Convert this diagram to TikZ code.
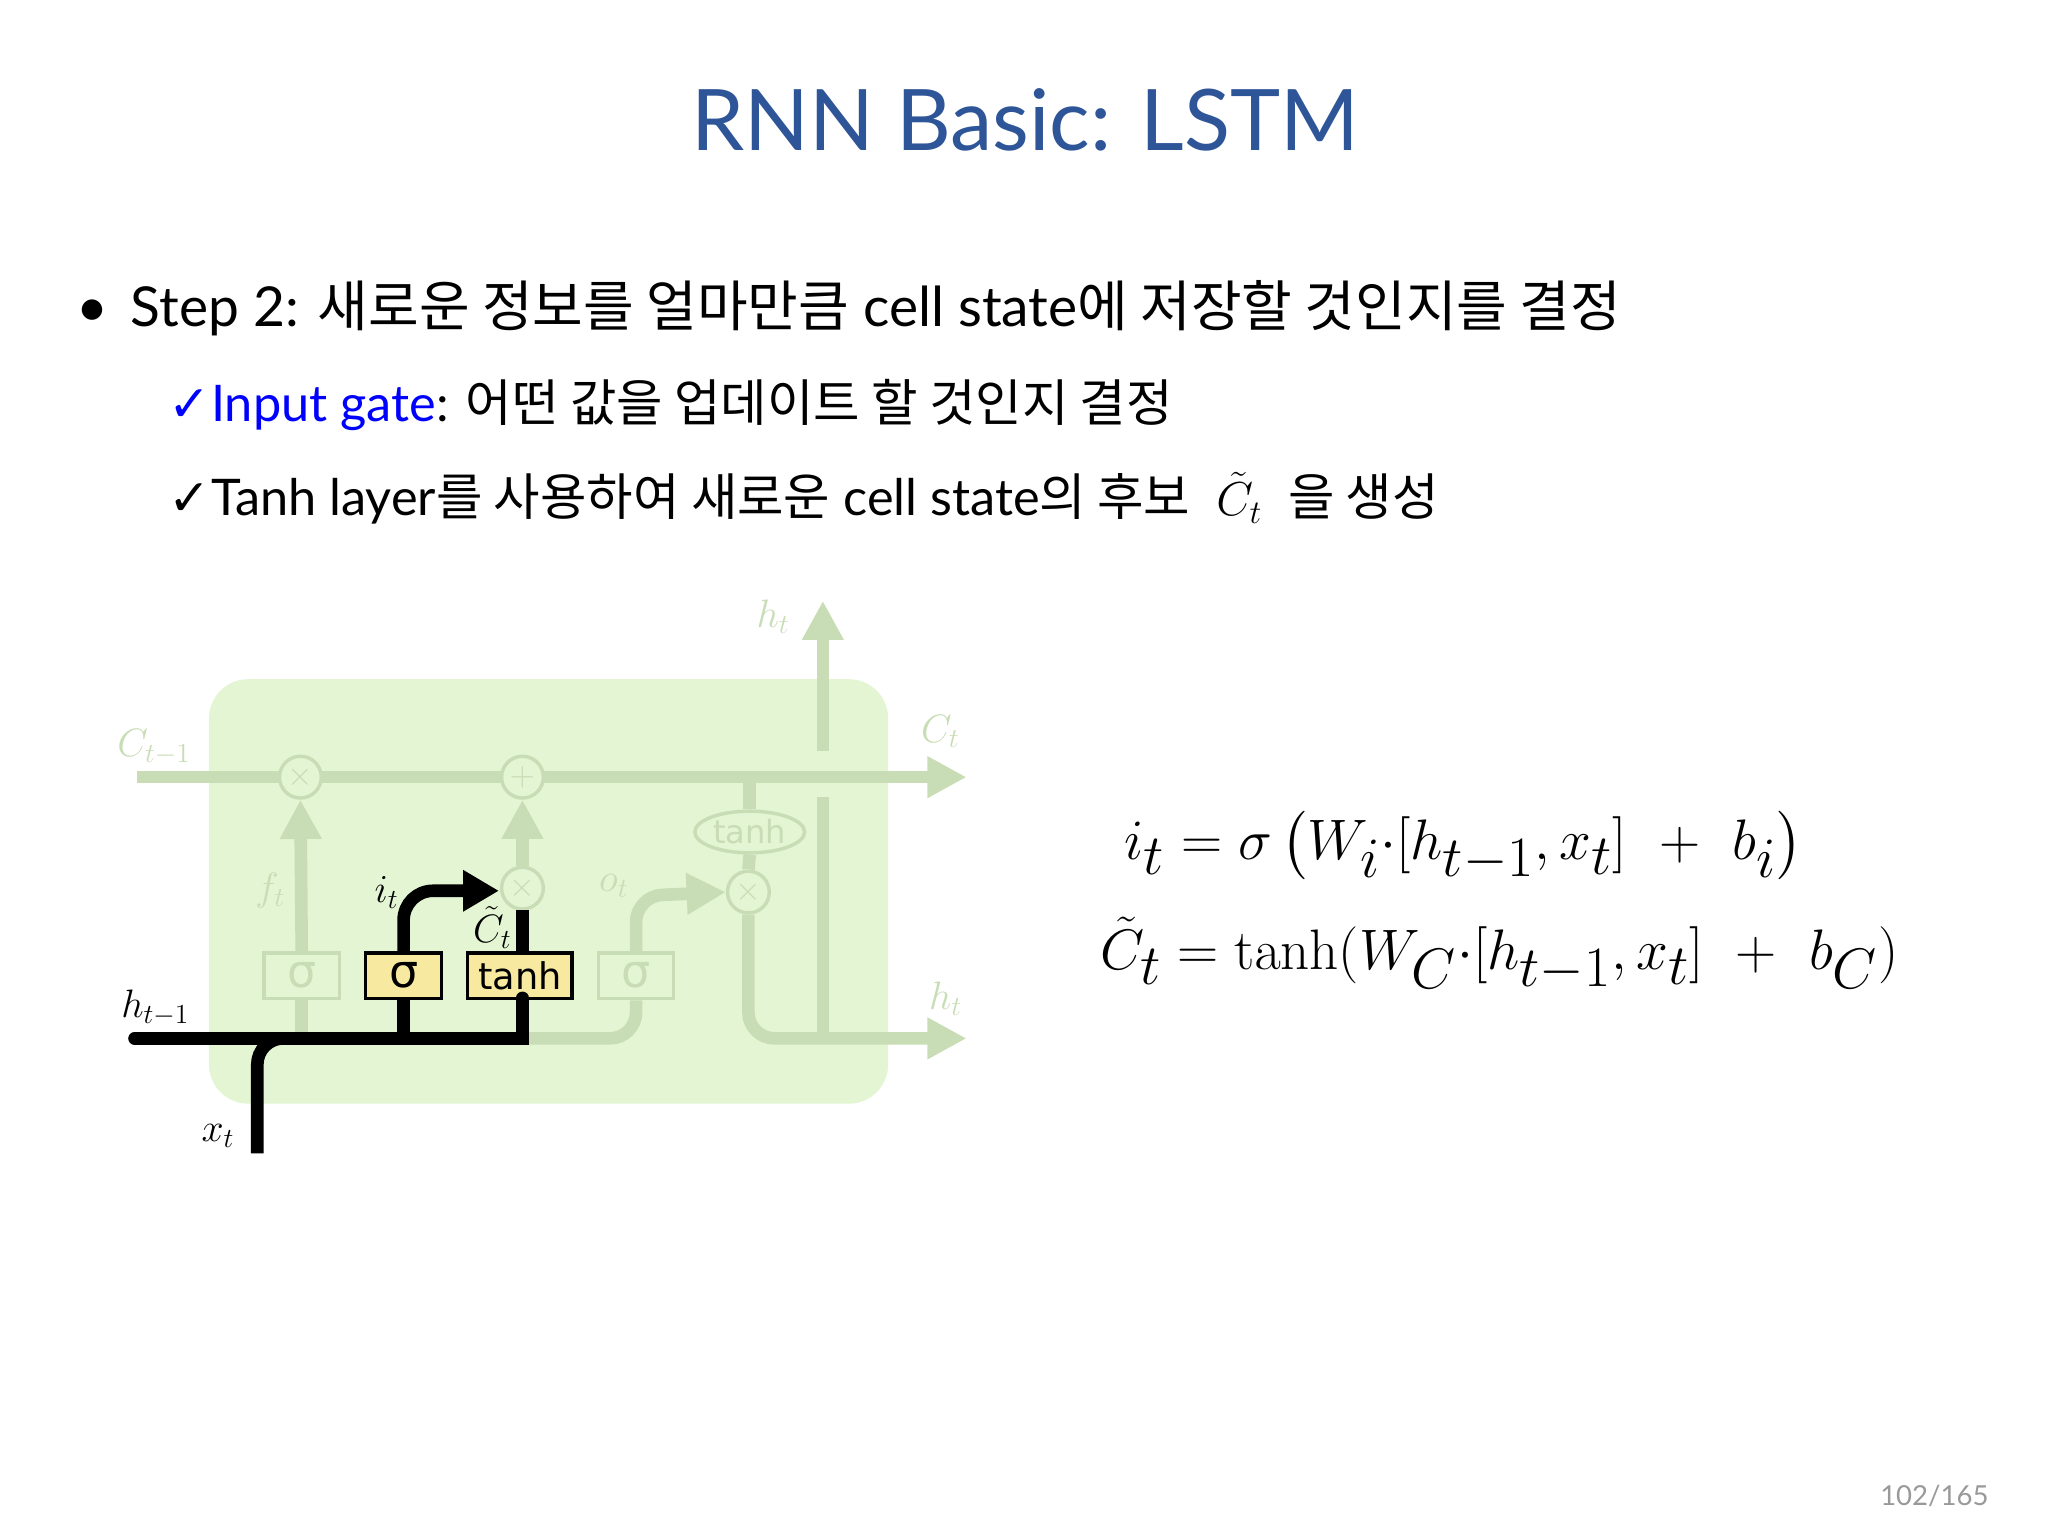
\documentclass[tikz,border=0pt]{standalone}
\usepackage{amsmath}
\usepackage[no-math]{fontspec}
\setmainfont{Lato}
\newfontfamily\krf{Noto Sans CJK KR}
\newfontfamily\djf{DejaVu Sans}
\usetikzlibrary{arrows.meta,shapes.geometric}
\definecolor{titleblue}{HTML}{2E5597}
\definecolor{cellfill}{HTML}{E3F5D3}
\definecolor{faint}{HTML}{C8DDB5}
\definecolor{yel}{HTML}{F7E9A0}
\tikzset{
  fl/.style={draw=faint,line width=5.5pt},
  bl/.style={draw=black,line width=5.5pt},
  fbox/.style={draw=faint,line width=1.5pt,minimum width=1.15cm,minimum height=0.7cm,text=faint,font=\djf\fontsize{20}{22}\selectfont},
  ybox/.style={draw=black,fill=yel,line width=1.5pt,minimum height=0.7cm,inner sep=1pt},
  op/.style={circle,draw=faint,line width=1.5pt,minimum size=0.64cm,inner sep=0pt,text=faint,font=\Large},
  flab/.style={text=faint,font=\LARGE},
  blab/.style={font=\LARGE},
  fa/.style={-{Triangle[length=0.6cm,width=0.6cm]}},
}
\begin{document}
\begin{tikzpicture}[x=0.02cm,y=-0.02cm]
\useasboundingbox (0,0) rectangle (1568,1176);
\node (title) at (785,92) {\fontsize{37}{44}\selectfont\color{titleblue}RNN Basic: LSTM};
\node[anchor=base west] (l1) at (52,250) {\fontsize{24}{28}\selectfont •\hspace{10pt}Step 2: {\krf 새로운 정보를 얼마만큼} cell state{\krf 에 저장할 것인지를 결정}};
\node[anchor=base west] (l2) at (123,323) {\fontsize{22}{26}\selectfont {\djf\color{blue}✓}{\color{blue}Input gate}: {\krf 어떤 값을 업데이트 할 것인지 결정}};
\node[anchor=base west] (l3) at (123,395) {\fontsize{22}{26}\selectfont {\djf ✓}Tanh layer{\krf 를 사용하여 새로운} cell state{\krf 의 후보} \ $\tilde{C}_t$ \ {\krf 을 생성}};
% cell
\fill[cellfill,rounded corners=0.6cm] (160,520) rectangle (680,845);
% faint structure
\draw[fl,fa] (105,595) -- (740,595);
\node[op,fill=cellfill] (m1) at (230,595) {$\times$};
\node[op,fill=cellfill] (p1) at (400,595) {$+$};
\node[fbox] (s1) at (231,747) {σ};
\node[fbox] (s3) at (487,747) {σ};
\node[op] (m2) at (400,680) {$\times$};
\node[op] (m3) at (573,683) {$\times$};
\node[ellipse,draw=faint,line width=1.5pt,minimum width=1.4cm,minimum height=0.55cm,inner sep=1pt,text=faint,font=\djf\fontsize{14}{16}\selectfont] (th) at (574,637) {tanh};
\draw[fl] (s1.south) -- (231,795);
\draw[fl,fa] (s1.north) -- (m1.south);
\draw[fl,fa] (m2.north) -- (p1.south);
\draw[fl,rounded corners=0.4cm] (400,795) -- (487,795) -- (s3.south);
\draw[fl,rounded corners=0.4cm,fa] (s3.north) -- (487,686) -- (m3.west);
\draw[fl] (574,595) -- (th.north);
\draw[fl] (th.south) -- (m3.north);
\draw[fl,rounded corners=0.4cm,fa] (m3.south) -- (573,795) -- (740,795);
\coordinate (hb) at (630,795);
\coordinate (hg) at (630,575);
\coordinate (htop) at (630,460);
\draw[fl,rounded corners=0.2cm] (hb) -- (630,610);
\draw[fl,fa] (hg) -- (htop);
% black parts
\node[ybox,minimum width=1.16cm,font=\djf\fontsize{20}{22}\selectfont] (s2) at (309,747) {σ};
\node[ybox,minimum width=1.6cm,font=\djf\fontsize{16}{18}\selectfont] (tb) at (398,747) {tanh};
\draw[bl,line cap=round] (103,795) -- (400,795) -- (400,764);
\draw[bl] (s2.south) -- (309,795);
\draw[bl,rounded corners=0.4cm] (197,883) -- (197,795) -- (240,795);
\draw[bl] (400,730) -- (400,697);
\draw[bl,rounded corners=0.45cm,-{Triangle[length=0.55cm,width=0.6cm]}] (s2.north) -- (309,682) -- (382,682);
% labels
\node[flab] at (118,572) {$C_{t-1}$};
\node[flab] at (720,560) {$C_t$};
\node[flab] at (592,472) {$h_t$};
\node[flab] at (724,765) {$h_t$};
\node[flab] at (207,682) {$f_t$};
\node[flab] at (470,678) {$o_t$};
\node[blab] at (119,772) {$h_{t-1}$};
\node[blab] at (167,870) {$x_t$};
\node[blab] at (296,683) {$i_t$};
\node[blab] at (377,710) {$\tilde{C}_t$};
% equations
\node[anchor=base west] (e1) at (855,658) {\fontsize{33}{38}\selectfont $i_t = \sigma\left(W_i{\cdot}[h_{t-1},x_t]\ +\ b_i\right)$};
\node[anchor=base west] (e2) at (836,742) {\fontsize{33}{38}\selectfont $\tilde{C}_t = \tanh(W_C{\cdot}[h_{t-1},x_t]\ +\ b_C)$};
\node[text=gray!80] (pg) at (1481,1145) {\fontsize{12}{14}\selectfont 102/165};
\end{tikzpicture}
\end{document}
